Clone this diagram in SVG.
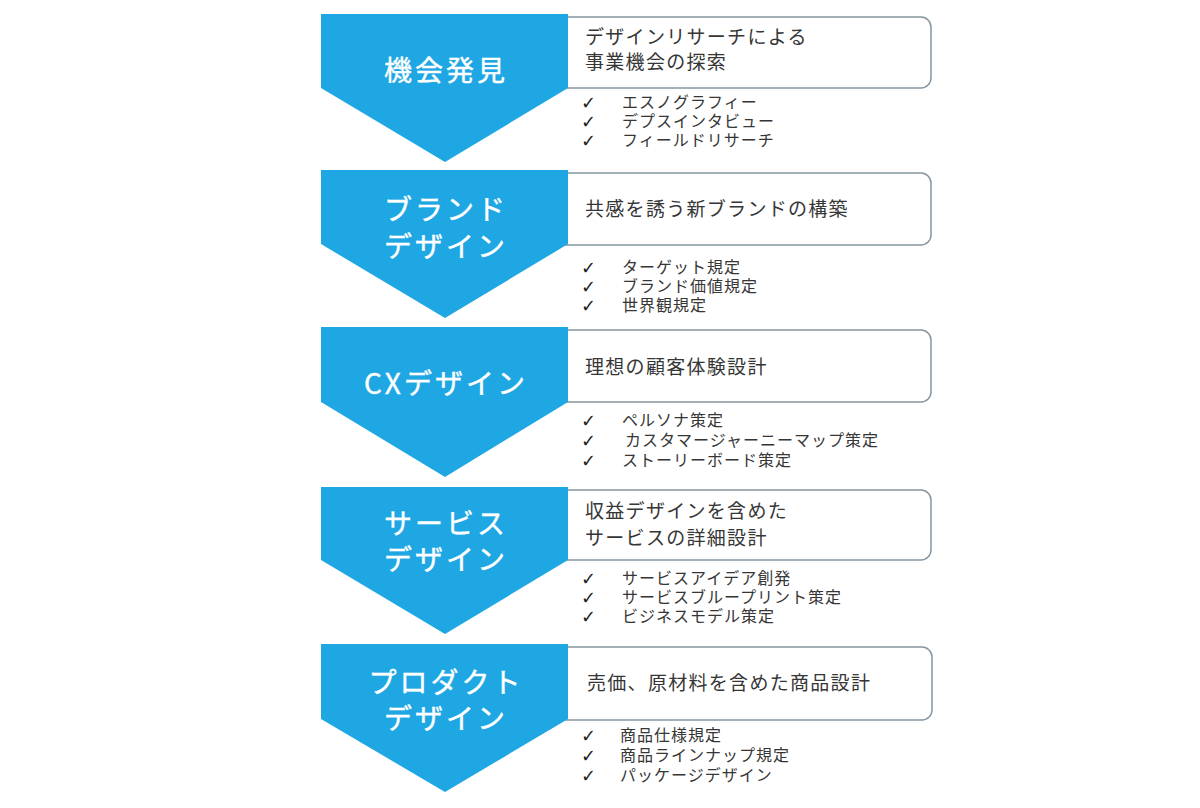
<svg xmlns="http://www.w3.org/2000/svg" width="1200" height="808" viewBox="0 0 1200 808">
<style>
.bg{fill:#ffffff}
.chev{fill:#1fa7e4}
.box{fill:#ffffff;stroke:#8696a0;stroke-width:1.5}
.head{font-family:"Noto Sans CJK JP","Noto Sans",sans-serif;font-size:28px;fill:#ffffff;text-anchor:middle;letter-spacing:3px;stroke:#ffffff;stroke-width:0.4}
.desc{font-family:"Noto Sans CJK JP","Noto Sans",sans-serif;font-size:19px;fill:#363636;letter-spacing:1.3px}
.item{font-family:"Noto Sans CJK JP","Noto Sans",sans-serif;font-size:16px;fill:#363636;letter-spacing:1px}
.chk{font-family:"DejaVu Sans",sans-serif;font-size:18px;font-weight:bold;fill:#1e1e1e}
</style>
<rect class="bg" x="0" y="0" width="1200" height="808"/>
<g id="connectors"></g>

<g id="step1">
<path class="box" d="M560,17 H921 A10,10 0 0 1 931,27 V78 A10,10 0 0 1 921,88 H560 Z"/>
<polygon class="chev" points="321,14 568,14 568,88 445,162 321,88"/>
<text class="head" x="446" y="81">機会発見</text>
<text class="desc" x="585" y="44">デザインリサーチによる</text>
<text class="desc" x="585" y="69">事業機会の探索</text>
<text class="chk" x="581" y="109">✓</text><text class="item" x="622" y="108">エスノグラフィー</text>
<text class="chk" x="581" y="128">✓</text><text class="item" x="622" y="127">デプスインタビュー</text>
<text class="chk" x="581" y="147">✓</text><text class="item" x="622" y="146">フィールドリサーチ</text>
</g>

<g id="step2">
<path class="box" d="M560,173 H921 A10,10 0 0 1 931,183 V235 A10,10 0 0 1 921,245 H560 Z"/>
<polygon class="chev" points="321,170 568,170 568,244 445,318 321,244"/>
<text class="head" x="446" y="220">ブランド</text>
<text class="head" x="446" y="257">デザイン</text>
<text class="desc" x="585" y="216">共感を誘う新ブランドの構築</text>
<text class="chk" x="581" y="274">✓</text><text class="item" x="622" y="273">ターゲット規定</text>
<text class="chk" x="581" y="293">✓</text><text class="item" x="622" y="292">ブランド価値規定</text>
<text class="chk" x="581" y="312">✓</text><text class="item" x="622" y="311">世界観規定</text>
</g>

<g id="step3">
<path class="box" d="M560,330 H921 A10,10 0 0 1 931,340 V392 A10,10 0 0 1 921,402 H560 Z"/>
<polygon class="chev" points="321,327 568,327 568,402 445,477 321,402"/>
<text class="head" x="446" y="394">CXデザイン</text>
<text class="desc" x="585" y="374">理想の顧客体験設計</text>
<text class="chk" x="581" y="427">✓</text><text class="item" x="622" y="426">ペルソナ策定</text>
<text class="chk" x="581" y="447">✓</text><text class="item" x="625" y="446">カスタマージャーニーマップ策定</text>
<text class="chk" x="581" y="467">✓</text><text class="item" x="622" y="466">ストーリーボード策定</text>
</g>

<g id="step4">
<path class="box" d="M560,490 H921 A10,10 0 0 1 931,500 V550 A10,10 0 0 1 921,560 H560 Z"/>
<polygon class="chev" points="321,487 568,487 568,560 445,634 321,560"/>
<text class="head" x="446" y="534">サービス</text>
<text class="head" x="446" y="570">デザイン</text>
<text class="desc" x="585" y="518">収益デザインを含めた</text>
<text class="desc" x="585" y="545">サービスの詳細設計</text>
<text class="chk" x="581" y="585">✓</text><text class="item" x="622" y="584">サービスアイデア創発</text>
<text class="chk" x="581" y="604">✓</text><text class="item" x="622" y="603">サービスブループリント策定</text>
<text class="chk" x="581" y="623">✓</text><text class="item" x="622" y="622">ビジネスモデル策定</text>
</g>

<g id="step5">
<path class="box" d="M560,647 H922 A10,10 0 0 1 932,657 V710 A10,10 0 0 1 922,720 H560 Z"/>
<polygon class="chev" points="321,644 568,644 568,719 445,792 321,719"/>
<text class="head" x="446" y="693">プロダクト</text>
<text class="head" x="446" y="729">デザイン</text>
<text class="desc" x="587" y="690">売価、原材料を含めた商品設計</text>
<text class="chk" x="581" y="742">✓</text><text class="item" x="620" y="741">商品仕様規定</text>
<text class="chk" x="581" y="762">✓</text><text class="item" x="620" y="761">商品ラインナップ規定</text>
<text class="chk" x="581" y="782">✓</text><text class="item" x="620" y="781">パッケージデザイン</text>
</g>
</svg>
